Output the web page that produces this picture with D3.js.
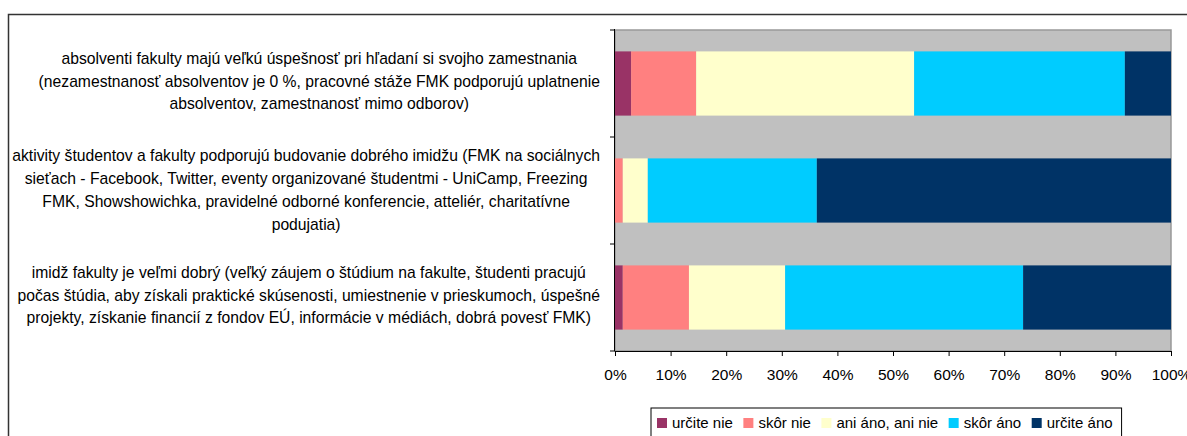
<!DOCTYPE html>
<html>
<head>
<meta charset="utf-8">
<script src="https://cdn.jsdelivr.net/npm/d3@7"></script>
<style>
  body { margin: 0; background: #fff; }
  svg text { font-family: "Liberation Sans", Arial, sans-serif; fill: #000; }
</style>
</head>
<body>
<div id="chart" style="width:1187px;height:436px"></div>
<script>
// category labels, already wrapped the way the chart shows them
var categories = [
  ["absolventi fakulty majú veľkú úspešnosť pri hľadaní si svojho zamestnania",
   "(nezamestnanosť absolventov je 0 %, pracovné stáže FMK podporujú uplatnenie",
   "absolventov, zamestnanosť mimo odborov)"],
  ["aktivity študentov a fakulty podporujú budovanie dobrého imidžu (FMK na sociálnych",
   "sieťach - Facebook, Twitter, eventy organizované študentmi - UniCamp, Freezing",
   "FMK, Showshowichka, pravidelné odborné konferencie, atteliér, charitatívne",
   "podujatia)"],
  ["imidž fakulty je veľmi dobrý (veľký záujem o štúdium na fakulte, študenti pracujú",
   "počas štúdia, aby získali praktické skúsenosti, umiestnenie v prieskumoch, úspešné",
   "projekty, získanie financií z fondov EÚ, informácie v médiách, dobrá povesť FMK)"]
];
var series = ["určite nie", "skôr nie", "ani áno, ani nie", "skôr áno", "určite áno"];
var colors = ["#993366", "#FF8080", "#FFFFCC", "#00CCFF", "#003366"];
// percent per category, same order as categories
var urciteNie  = [2.9, 0.0, 1.4];
var skorNie    = [11.7, 1.4, 11.9];
var aniAniNie  = [39.2, 4.5, 17.3];
var skorAno    = [37.9, 30.4, 42.8];
var urciteAno  = [8.3, 63.7, 26.6];
var xTicks = [0, 10, 20, 30, 40, 50, 60, 70, 80, 90, 100];

var values = [urciteNie, skorNie, aniAniNie, skorAno, urciteAno];

var chart = document.getElementById("chart"),
    width = 1187,
    height = 436,
    plot = {left: 615, right: 1171, top: 30, bottom: 351},
    labelRight = 600;

var svg = d3.select(chart).append("svg")
  .attr("width", width)
  .attr("height", height);

// outer frame (runs off the picture on the right and bottom)
svg.append("rect")
  .attr("x", 8.5).attr("y", 14.5)
  .attr("width", 1300).attr("height", 600)
  .attr("fill", "none")
  .attr("stroke", "#333")
  .attr("stroke-width", 1.5);

var x = d3.scaleLinear().domain([0, 100]).range([plot.left, plot.right]);
var y = d3.scaleBand()
  .domain(d3.range(categories.length))
  .range([plot.top, plot.bottom])
  .paddingInner(0.4)
  .paddingOuter(0.2);

// plot background
svg.append("rect")
  .attr("x", plot.left).attr("y", plot.top)
  .attr("width", plot.right - plot.left)
  .attr("height", plot.bottom - plot.top)
  .attr("fill", "#C0C0C0")
  .attr("stroke", "#999")
  .attr("stroke-width", 1.5);

// stacked rows
var rows = categories.map(function(c, i) {
  var row = {i: i};
  series.forEach(function(s, k) { row[s] = values[k][i]; });
  return row;
});
var stacked = d3.stack().keys(series)(rows);

var layer = svg.selectAll("g.layer")
  .data(stacked)
  .enter().append("g")
  .attr("class", "layer")
  .attr("fill", function(d, k) { return colors[k]; });

layer.selectAll("rect")
  .data(function(d) { return d; })
  .enter().append("rect")
  .attr("x", function(d) { return x(d[0]); })
  .attr("width", function(d) { return x(d[1]) - x(d[0]); })
  .attr("y", function(d) { return y(d.data.i); })
  .attr("height", y.bandwidth());

// x axis
var xAxis = svg.append("g")
  .attr("transform", "translate(0," + plot.bottom + ")")
  .call(d3.axisBottom(x).tickValues(xTicks).tickSize(5).tickPadding(13)
    .tickFormat(function(d) { return d + "%"; }));
xAxis.selectAll("text").attr("font-size", 15.5).attr("font-family", null);
xAxis.select(".domain").attr("stroke", "#000");

// y axis line + ticks at the band boundaries
var bounds = d3.range(categories.length + 1).map(function(i) {
  return plot.top + i * y.step();
});
svg.append("line")
  .attr("x1", plot.left - 0.5).attr("x2", plot.left - 0.5)
  .attr("y1", plot.top - 1).attr("y2", plot.bottom)
  .attr("stroke", "#000");
svg.selectAll("line.ytick")
  .data(bounds)
  .enter().append("line")
  .attr("class", "ytick")
  .attr("x1", plot.left - 5).attr("x2", plot.left)
  .attr("y1", function(d) { return d; })
  .attr("y2", function(d) { return d; })
  .attr("stroke", "#000");

// category labels: lines centred inside a block that ends at labelRight
var lineH = 22.7;
svg.selectAll("text.cat")
  .data(categories)
  .enter().append("text")
  .attr("class", "cat")
  .attr("font-size", 15.7)
  .attr("text-anchor", "middle")
  .each(function(lines, i) {
    var t = d3.select(this);
    var cy = y(i) + y.bandwidth() / 2;
    var y0 = cy - (lines.length - 1) * lineH / 2 + (lines.length > 3 ? 5 : 3);
    lines.forEach(function(l, j) {
      t.append("tspan").attr("y", y0 + j * lineH).text(l);
    });
    var w = 0;
    t.selectAll("tspan").each(function() { w = Math.max(w, this.getComputedTextLength()); });
    t.selectAll("tspan").attr("x", labelRight - w / 2);
  });

// legend
var legend = svg.append("g").attr("transform", "translate(651,408)");
var box = legend.append("rect")
  .attr("height", 40)
  .attr("fill", "#fff")
  .attr("stroke", "#000");
var lx = 6;
series.forEach(function(s, k) {
  legend.append("rect")
    .attr("x", lx).attr("y", 10)
    .attr("width", 10).attr("height", 10)
    .attr("fill", colors[k]);
  var t = legend.append("text")
    .attr("x", lx + 15).attr("y", 19.5)
    .attr("font-size", 15)
    .text(s);
  lx += 15 + t.node().getComputedTextLength() + 10.5;
});
box.attr("width", lx - 10.5 + 9);
</script>
</body>
</html>
